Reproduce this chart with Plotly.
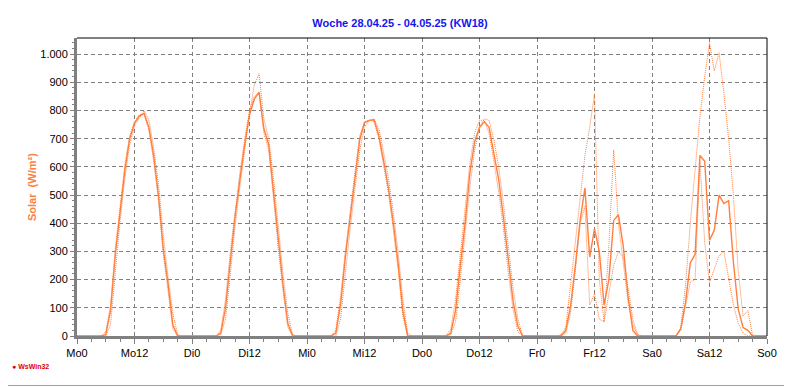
import plotly.graph_objects as go

# ---------------- data (hourly, Mo 0h .. So 0h) ----------------
solar_mean = [
    0, 0, 0, 0, 0, 0, 5, 90, 290, 440, 590, 700, 755, 780, 790, 740, 640, 500, 310, 185, 40, 0, 0, 0,      # Mo
    0, 0, 0, 0, 0, 0, 10, 100, 265, 425, 555, 680, 785, 840, 865, 735, 680, 510, 330, 180, 45, 0, 0, 0,    # Di
    0, 0, 0, 0, 0, 0, 10, 110, 280, 415, 560, 696, 757, 765, 767, 710, 620, 525, 402, 260, 90, 0, 0, 0,    # Mi
    0, 0, 0, 0, 0, 0, 10, 90, 250, 402, 580, 690, 740, 760, 740, 650, 555, 420, 265, 125, 35, 0, 0, 0,     # Do
    0, 0, 0, 0, 0, 0, 20, 105, 250, 410, 525, 280, 380, 300, 110, 200, 410, 430, 320, 140, 20, 0, 0, 0,    # Fr
    0, 0, 0, 0, 0, 0, 25, 120, 260, 290, 640, 620, 340, 375, 500, 470, 480, 260, 95, 30, 20, 0, 0, 0,      # Sa
    0,                                                                                                    # So0
]
solar_dot_a = [
    0, 0, 0, 0, 0, 0, 0, 40, 240, 410, 560, 680, 745, 775, 800, 765, 670, 540, 360, 210, 80, 5, 0, 0,
    0, 0, 0, 0, 0, 0, 5, 60, 220, 390, 530, 660, 790, 890, 930, 770, 700, 560, 380, 220, 80, 5, 0, 0,
    0, 0, 0, 0, 0, 0, 0, 60, 230, 380, 520, 660, 740, 765, 770, 735, 650, 560, 440, 300, 130, 10, 0, 0,
    0, 0, 0, 0, 0, 0, 5, 50, 200, 360, 530, 660, 740, 770, 765, 695, 600, 470, 320, 170, 60, 0, 0, 0,
    0, 0, 0, 0, 0, 5, 30, 180, 330, 490, 640, 740, 860, 200, 50, 320, 660, 400, 260, 120, 40, 0, 0, 0,
    0, 0, 0, 0, 0, 0, 30, 180, 400, 600, 780, 920, 1040, 940, 1005, 860, 700, 496, 230, 70, 90, 0, 0, 0,
    0,
]
solar_dot_b = [
    0, 0, 0, 0, 0, 0, 15, 110, 310, 460, 610, 710, 760, 785, 785, 730, 620, 480, 290, 160, 25, 0, 0, 0,
    0, 0, 0, 0, 0, 0, 20, 130, 300, 450, 580, 700, 800, 850, 860, 720, 660, 490, 310, 160, 30, 0, 0, 0,
    0, 0, 0, 0, 0, 0, 20, 140, 300, 430, 580, 710, 760, 765, 760, 700, 605, 505, 380, 240, 70, 0, 0, 0,
    0, 0, 0, 0, 0, 0, 25, 130, 290, 450, 615, 720, 765, 765, 720, 620, 510, 380, 225, 95, 15, 0, 0, 0,
    0, 0, 0, 0, 0, 0, 10, 80, 230, 400, 460, 110, 150, 60, 50, 150, 250, 300, 280, 170, 60, 5, 0, 0,
    0, 0, 0, 0, 0, 0, 20, 110, 190, 200, 620, 330, 190, 237, 284, 300, 200, 110, 45, 10, 0, 0, 0, 0,
    0,
]
hours = list(range(len(solar_mean)))

x_tick_hours = [0, 12, 24, 36, 48, 60, 72, 84, 96, 108, 120, 132, 144]
x_tick_labels = ["Mo0", "Mo12", "Di0", "Di12", "Mi0", "Mi12", "Do0", "Do12",
                 "Fr0", "Fr12", "Sa0", "Sa12", "So0"]
y_tick_vals = [0, 100, 200, 300, 400, 500, 600, 700, 800, 900, 1000]
y_tick_labels = ["0", "100", "200", "300", "400", "500", "600", "700", "800", "900", "1.000"]

title_text = "Woche 28.04.25 - 04.05.25 (KW18)"
y_title = "Solar  (W/m²)"

# ---------------- styling ----------------
ORANGE = "#ff7f3f"
GRID = "#808080"
FONT = "Liberation Sans, Arial, sans-serif"

fig = go.Figure()
for series in (solar_dot_a, solar_dot_b):
    fig.add_trace(go.Scatter(x=hours, y=series, mode="lines",
                             line=dict(color=ORANGE, width=1, dash="1px,1px"),
                             hoverinfo="skip"))
fig.add_trace(go.Scatter(x=hours, y=solar_mean, mode="lines",
                         line=dict(color=ORANGE, width=1.4),
                         hoverinfo="skip"))

OFF = 8                      # browser default body margin
W, H = 792 - OFF, 387 - OFF
L, R, T, B = 77 - OFF, 25, 38 - OFF, 51
pw, ph = W - L - R, H - T - B


def px(xp):   # page x -> paper x
    return (xp - OFF - L) / pw


def py(yp):   # page y -> paper y
    return (T + ph - (yp - OFF)) / ph


fig.update_layout(
    width=W, height=H,
    margin=dict(l=L, r=R, t=T, b=B, pad=0),
    paper_bgcolor="white", plot_bgcolor="white",
    showlegend=False,
    font=dict(family=FONT, size=11, color="black"),
    title=dict(text="<b>" + title_text + "</b>", x=0.5, xanchor="center",
               y=1 - (23 - OFF) / H, yanchor="middle",
               font=dict(family=FONT, size=11, color="#1414f0")),
)

fig.update_xaxes(
    range=[0, 144], tickmode="array", tickvals=x_tick_hours, ticktext=x_tick_labels,
    showgrid=True, gridcolor=GRID, gridwidth=1, griddash="4px,3px",
    showline=True, linecolor=GRID, linewidth=3,
    ticks="outside", ticklen=5, tickcolor=GRID, tickwidth=1,
    minor=dict(dtick=3, tick0=0, ticks="outside", ticklen=3, tickcolor=GRID, showgrid=False),
    zeroline=False, layer="below traces",
    tickfont=dict(family=FONT, size=11, color="black"),
)
fig.update_yaxes(
    range=[0, 1057], tickmode="array", tickvals=y_tick_vals, ticktext=y_tick_labels,
    showgrid=True, gridcolor=GRID, gridwidth=1, griddash="4px,3px",
    showline=True, linecolor=GRID, linewidth=3,
    ticks="outside", ticklen=4, tickcolor=GRID, tickwidth=1,
    minor=dict(dtick=20, tick0=0, ticks="outside", ticklen=2, tickcolor=GRID, showgrid=False),
    zeroline=False, layer="below traces",
    tickfont=dict(family=FONT, size=11, color="black"),
)

# top / right black frame of plot area
fig.add_shape(type="line", xref="paper", yref="paper", x0=0, x1=1, y0=1, y1=1,
              line=dict(color="black", width=1))
fig.add_shape(type="line", xref="paper", yref="paper", x0=1, x1=1, y0=0, y1=1,
              line=dict(color="black", width=1))
# outer image frame (bottom / right grey)
fig.add_shape(type="line", xref="paper", yref="paper",
              x0=px(OFF), x1=px(792), y0=py(385.5), y1=py(385.5),
              line=dict(color="#a0a0a0", width=1))
fig.add_shape(type="line", xref="paper", yref="paper",
              x0=px(790.5), x1=px(790.5), y0=py(387), y1=py(OFF),
              line=dict(color="#a0a0a0", width=1))

# y axis title
fig.add_annotation(text="<b>" + y_title + "</b>", textangle=-90,
                   xref="paper", yref="paper", x=px(32), y=py(187),
                   xanchor="center", yanchor="middle", showarrow=False,
                   font=dict(family=FONT, size=11, color="#ff8040"))
# logo text
fig.add_annotation(text="<b>● WsWin32</b>", xref="paper", yref="paper",
                   x=px(10), y=py(366), xanchor="left", yanchor="middle",
                   showarrow=False, font=dict(family=FONT, size=7, color="#e00000"))

fig.write_html("out.html")
